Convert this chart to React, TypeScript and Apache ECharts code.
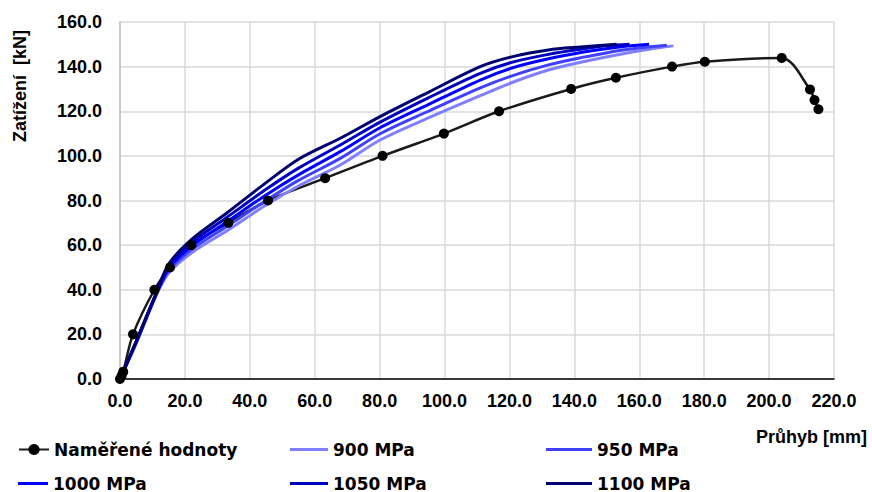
import React, { useEffect, useRef } from "react";
import * as echarts from "echarts";

const seriesNames = ["Naměřené hodnoty", "900 MPa", "950 MPa", "1000 MPa", "1050 MPa", "1100 MPa"];

const measured: [number, number][] = [
  [0, 0], [0.5, 1.5], [1, 3.3], [4, 20], [10.6, 40], [15.4, 50], [22, 60], [33.4, 70], [45.6, 80],
  [63.2, 90], [80.9, 100], [99.8, 110], [116.8, 120], [139, 130], [152.8, 135], [170.1, 140],
  [180.2, 142.2], [203.9, 143.9], [212.6, 129.8], [214, 125], [215.2, 120.9],
];

const mpa900: [number, number][] = [
  [0, 0], [5, 16], [11, 37], [15, 47.5], [22, 56.5], [33, 66.5], [45, 78], [55, 86.5], [68, 96],
  [80, 107], [95, 117], [111, 127], [121, 133], [132, 138.5], [142, 142], [155, 145.8], [163, 147.8], [170.5, 149.3],
];
const mpa950: [number, number][] = [
  [0, 0], [5, 16.3], [11, 37.3], [15, 48.5], [22, 58], [33, 68.5], [45, 80], [55, 89], [68, 99],
  [80, 109.8], [95, 120], [111, 130.5], [121, 136], [132, 140.8], [142, 144], [155, 147.5], [168.5, 149.6],
];
const mpa1000: [number, number][] = [
  [0, 0], [5, 16.5], [11, 37.5], [15, 49.5], [22, 59.5], [33, 70.5], [45, 82.5], [55, 91.5], [68, 102],
  [80, 112.5], [95, 123], [111, 134], [121, 139.5], [132, 143.5], [142, 146.3], [152, 148.5], [163, 150],
];
const mpa1050: [number, number][] = [
  [0, 0], [5, 16.8], [11, 37.8], [15, 50.5], [22, 61], [33, 72.5], [45, 85], [55, 94.5], [68, 105],
  [80, 115], [95, 126], [111, 137], [121, 142], [132, 145.5], [142, 147.8], [150, 149.3], [157, 150],
];
const mpa1100: [number, number][] = [
  [0, 0], [5, 17], [11, 38], [15, 51.5], [22, 62.5], [33, 74.5], [45, 88], [55, 98.5], [68, 108],
  [80, 117.5], [95, 128.5], [111, 140], [121, 144.5], [132, 147.5], [142, 148.8], [153, 150],
];

const blueColors = ["#8080ff", "#4040ff", "#0000ff", "#0000c0", "#000070"];
const FONT = "'Liberation Sans', Arial, sans-serif";
const LEGEND_FONT = "'DejaVu Sans', 'Liberation Sans', sans-serif";

export default function App() {
  const ref = useRef<HTMLDivElement>(null);
  useEffect(() => {
    if (!ref.current) return;
    const chart = echarts.init(ref.current, undefined, { renderer: "svg" });
    const blueData = [mpa900, mpa950, mpa1000, mpa1050, mpa1100];
    // [series index, icon start x, icon width, row center y]
    const legendSlots: [number, number, number, number][] = [
      [0, 18, 30, 450],
      [1, 290, 38, 450],
      [2, 546, 46, 450],
      [3, 18, 30, 484],
      [4, 290, 38, 484],
      [5, 546, 46, 484],
    ];
    const legends = legendSlots.map(([si, x, w, cy]) => ({
      orient: "horizontal",
      left: x - 5,
      top: cy - 14,
      itemWidth: w,
      itemHeight: si === 0 ? 14 : 3,
      icon: si === 0 ? undefined : "rect",
      itemGap: 0,
      data: [seriesNames[si]],
      textStyle: { fontSize: 17, fontWeight: "bold", color: "#000", fontFamily: LEGEND_FONT, padding: [3, 0, 0, 0] },
    }));
    chart.setOption({
      animation: false,
      textStyle: { fontFamily: FONT },
      grid: { left: 120, right: 38, top: 22, bottom: 113, containLabel: false },
      xAxis: {
        type: "value",
        min: 0,
        max: 220,
        interval: 20,
        axisLine: { show: true, lineStyle: { color: "#000", width: 1.5 } },
        axisTick: { show: false },
        axisLabel: {
          margin: 13,
          fontSize: 18,
          fontWeight: "bold",
          color: "#000",
          formatter: (v: number) => v.toFixed(1),
        },
        splitLine: { show: true, lineStyle: { color: "#d9d9d9", width: 1.5 } },
      },
      yAxis: {
        type: "value",
        min: 0,
        max: 160,
        interval: 20,
        axisLine: { show: true, lineStyle: { color: "#bfbfbf", width: 1.5 } },
        axisTick: { show: false },
        axisLabel: {
          margin: 18,
          fontSize: 18,
          fontWeight: "bold",
          color: "#000",
          formatter: (v: number) => v.toFixed(1),
        },
        splitLine: { show: true, lineStyle: { color: "#d9d9d9", width: 1.5 } },
      },
      legend: legends,
      graphic: [
        {
          type: "text",
          x: 19.5,
          y: 86,
          rotation: Math.PI / 2,
          style: {
            text: "Zatížení  [kN]",
            fontSize: 18,
            fontWeight: "bold",
            fontFamily: FONT,
            fill: "#000",
            align: "center",
            verticalAlign: "middle",
          },
        },
        {
          type: "text",
          x: 867,
          y: 437,
          style: {
            text: "Průhyb [mm]",
            fontSize: 18,
            fontWeight: "bold",
            fontFamily: FONT,
            fill: "#000",
            align: "right",
            verticalAlign: "middle",
          },
        },
      ],
      series: [
        {
          name: seriesNames[0],
          type: "line",
          data: measured,
          smooth: 0.3,
          symbol: "circle",
          symbolSize: 10,
          itemStyle: { color: "#000" },
          lineStyle: { color: "#1a1a1a", width: 2.5 },
        },
        ...blueData.map((d, i) => ({
          name: seriesNames[i + 1],
          type: "line",
          data: d,
          smooth: 0.3,
          symbol: "none",
          showSymbol: false,
          itemStyle: { color: blueColors[i] },
          lineStyle: { color: blueColors[i], width: 3 },
        })),
      ],
    });
    return () => chart.dispose();
  }, []);
  return <div ref={ref} style={{ width: 872, height: 492, position: "absolute", left: 0, top: 0 }} />;
}
